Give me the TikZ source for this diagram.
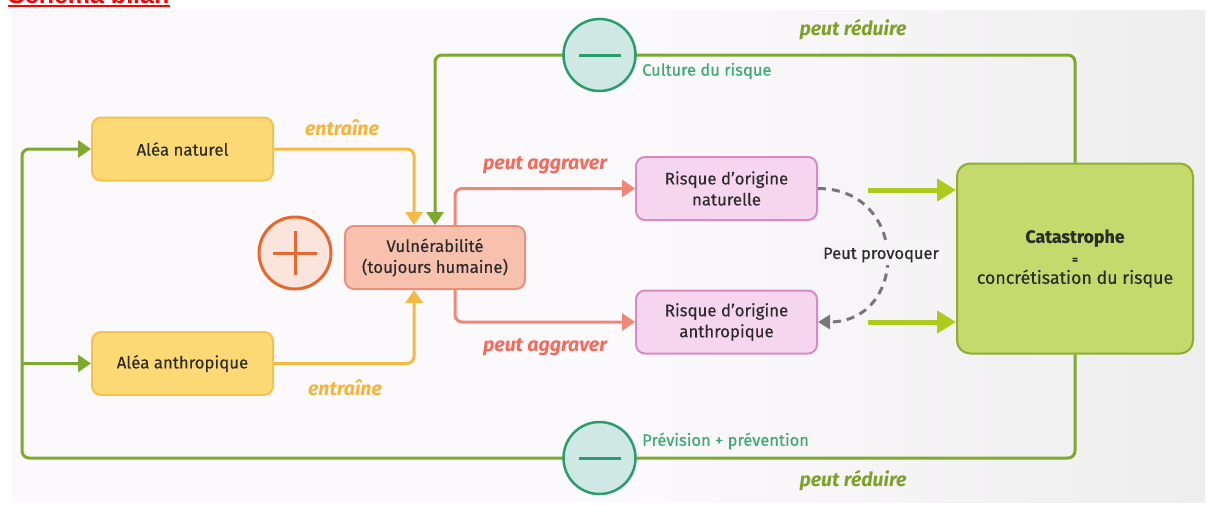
\documentclass[tikz,border=0pt]{standalone}
\usepackage{fontspec}
\setmainfont{Fira Sans}
\newfontfamily\boxfont{Fira Sans}[FakeBold=0.25]
\newfontfamily\titlefont{Liberation Sans}
\usetikzlibrary{arrows.meta,calc}
\definecolor{bgL}{HTML}{FCF9FC}
\definecolor{bgR}{HTML}{EEEEEE}
\definecolor{txt}{HTML}{2B2B2B}
\definecolor{aleaF}{HTML}{FDD975}
\definecolor{aleaD}{HTML}{F4C24E}
\definecolor{vulnF}{HTML}{F8C1AE}
\definecolor{vulnD}{HTML}{E8907B}
\definecolor{riskF}{HTML}{F6D6EF}
\definecolor{riskD}{HTML}{D88AC7}
\definecolor{catF}{HTML}{C6D96C}
\definecolor{catD}{HTML}{8DAE30}
\definecolor{gl}{HTML}{7DA92E}
\definecolor{ol}{HTML}{F5BA42}
\definecolor{sl}{HTML}{EE8875}
\definecolor{lime}{HTML}{ADCB1E}
\definecolor{minusF}{HTML}{CFE8E4}
\definecolor{minusD}{HTML}{2A9D6E}
\definecolor{plusF}{HTML}{FBE4DB}
\definecolor{plusD}{HTML}{E4682F}
\definecolor{greentxt}{HTML}{3BAA6E}
\definecolor{olivetxt}{HTML}{7CA22A}
\definecolor{orangetxt}{HTML}{F5B53A}
\definecolor{redtxt}{HTML}{F26B5B}
\definecolor{dashc}{HTML}{777777}
\begin{document}
\begin{tikzpicture}[x=1pt,y=-1pt,
  box/.style={rounded corners=9pt, line width=2pt, align=center, text=txt,
    font=\boxfont\fontsize{16.8}{21}\selectfont, inner sep=0pt},
  alea/.style={box, fill=aleaF, draw=aleaD, minimum width=181pt, minimum height=63pt},
  vulnbox/.style={box, fill=vulnF, draw=vulnD, minimum width=180pt, minimum height=63pt},
  riskbox/.style={box, fill=riskF, draw=riskD, minimum width=181pt, minimum height=63pt},
  catbox/.style={box, rounded corners=13pt, fill=catF, draw=catD, minimum width=236pt, minimum height=190pt, font=\boxfont\fontsize{17.8}{21.5}\selectfont},
  tip/.style={-{Triangle[length=13pt,width=17pt]}},
  gline/.style={draw=gl, line width=3pt, rounded corners=7pt},
  oline/.style={draw=ol, line width=3pt, rounded corners=7pt},
  sline/.style={draw=sl, line width=3pt, rounded corners=7pt},
  limearrow/.style={draw=lime, line width=5pt, -{Triangle[length=19pt,width=22pt]}},
  minuscirc/.style={circle, fill=minusF, draw=minusD, line width=2.5pt, minimum size=72pt, inner sep=0pt},
  pluscirc/.style={circle, fill=plusF, draw=plusD, line width=3pt, minimum size=72pt, inner sep=0pt},
  lbl/.style={font=\fontsize{19.5}{22}\selectfont\bfseries\itshape, inner sep=0pt},
  glbl/.style={font=\boxfont\fontsize{16.5}{18}\selectfont, text=greentxt, inner sep=0pt, anchor=west},
]
\useasboundingbox (0,0) rectangle (1208,506);
\clip (0,0) rectangle (1208,506);
\fill[white] (0,0) rectangle (1208,506);
\fill[bgL] (12,10) rectangle (640,502);
\shade[left color=bgL, right color=bgR] (640,10) rectangle (1205,502);

% title (cut by the top edge)
\node[anchor=base west, text=red, font=\titlefont\bfseries\fontsize{25}{25}\selectfont, inner sep=0pt] (title) at (8,3) {Schéma bilan};
\draw[red, line width=2.5pt] ([yshift=-3pt]title.base west) -- ([yshift=-3pt]title.base east);

% nodes
\node[alea] (a1) at (182.5,149) {Aléa naturel};
\node[alea] (a2) at (182.5,363.5) {Aléa anthropique};
\node[vulnbox] (v) at (435,257.5) {Vulnérabilité\\(toujours humaine)};
\node[riskbox] (r1) at (726.5,188.5) {Risque d’origine\\naturelle};
\node[riskbox] (r2) at (726.5,322) {Risque d’origine\\anthropique};
\node[catbox] (c) at (1075,258.5) {\textbf{Catastrophe}\\[-1pt]{\bfseries\fontsize{11}{12}\selectfont =}\\[-1pt]concrétisation du risque};

\node[pluscirc] (plus) at (295,253) {};
\draw[plusD, line width=3pt] ([xshift=-22pt]plus.center) -- ([xshift=22pt]plus.center)
  ([yshift=-22pt]plus.center) -- ([yshift=22pt]plus.center);

% helper coordinates
\coordinate (vg) at ([xshift=0pt]v.north);
\coordinate (vo) at ([xshift=-21pt]v.north);
\coordinate (vob) at ([xshift=-21pt]v.south);
\coordinate (vs) at ([xshift=20pt]v.north);
\coordinate (vsb) at ([xshift=20pt]v.south);
\coordinate (topy) at (600,55);
\coordinate (bl) at (22,458);
\coordinate (l1) at (868,190);
\coordinate (l2) at (868,322);

% feedback loops
\draw[gline, tip] (c.north) |- (topy) -| (vg);
\draw[gline, tip] (c.south) |- (bl) |- (a1.west);
\draw[gline, tip] (bl |- a2.west) -- (a2.west);

% minus circles
\node[minuscirc] (m1) at (599.5,55) {};
\node[minuscirc] (m2) at (599.5,458) {};
\draw[minusD, line width=3pt] ([xshift=-21pt]m1.center) -- ([xshift=21pt]m1.center);
\draw[minusD, line width=3pt] ([xshift=-21pt]m2.center) -- ([xshift=21pt]m2.center);

% hazards -> vulnerability
\draw[oline, tip] (a1.east) -| (vo);
\draw[oline, tip] (a2.east) -| (vob);

% vulnerability -> risks
\draw[sline, tip] (vs) |- (r1.west);
\draw[sline, tip] (vsb) |- (r2.west);

% risks -> catastrophe
\draw[limearrow] (l1) -- (l1 -| c.west);
\draw[limearrow] (l2) -- (l2 -| c.west);

% peut provoquer
\draw[dashc, line width=3pt, dash pattern=on 8pt off 6pt, -{Triangle[length=12pt,width=14pt]}]
  (r1.east) to[out=0, in=0, looseness=1.75] (r2.east);
\node[fill=bgR!40!bgL, inner sep=3pt, text=txt, font=\boxfont\fontsize{16.5}{18}\selectfont] (pp) at (881,255) {Peut provoquer};

% labels
\node[lbl, text=orangetxt] (e1) at (342,128) {entraîne};
\node[lbl, text=orangetxt] (e2) at (345,388) {entraîne};
\node[lbl, text=redtxt] (p1) at (545,165) {peut aggraver};
\node[lbl, text=redtxt] (p2) at (545,347) {peut aggraver};
\node[lbl, text=olivetxt] (pr1) at (853,30) {peut réduire};
\node[lbl, text=olivetxt] (pr2) at (853,481) {peut réduire};
\node[glbl] (cr) at (642,71) {Culture du risque};
\node[glbl] (pv) at (642,441) {Prévision + prévention};
\end{tikzpicture}
\end{document}
